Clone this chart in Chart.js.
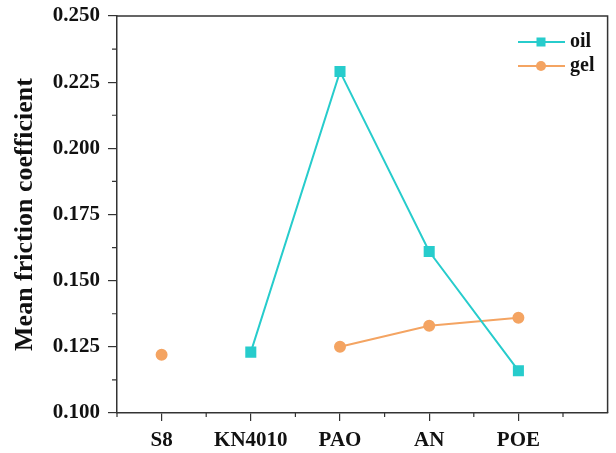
<!DOCTYPE html>
<html>
<head>
<meta charset="utf-8">
<script src="https://cdn.jsdelivr.net/npm/chart.js@4"></script>
<style>
  body { margin: 0; background: #fff; }
  #wrap { width: 616px; height: 453px; }
</style>
</head>
<body>
<div id="wrap"><canvas id="frictionChart" width="616" height="453"></canvas></div>
<script>
// 카테고리 / 시리즈 값
var categories = ["S8", "KN4010", "PAO", "AN", "POE"];
var oilValues = [null, 0.123, 0.229, 0.161, 0.116];
var gelValues = [0.122, null, 0.125, 0.133, 0.136];
var yTicks = [0.100, 0.125, 0.150, 0.175, 0.200, 0.225, 0.250];

var OIL_COLOR = "#27cccc";
var GEL_COLOR = "#f4a462";
var AXIS_COLOR = "#333";
var FONT = "'Liberation Serif', 'Times New Roman', serif";

function toPoints(values) {
    return values.map(function (v, i) { return { x: i, y: v }; });
}

// 박스, 보조 눈금, 범례 그리기
var decorPlugin = {
    id: "decor",
    afterDraw: function (chart) {
        var ctx = chart.ctx;
        var area = chart.chartArea;
        var xs = chart.scales.x;
        var ys = chart.scales.y;
        ctx.save();
        ctx.strokeStyle = AXIS_COLOR;
        ctx.lineWidth = 1.5;
        // top + right border
        ctx.beginPath();
        ctx.moveTo(area.left, area.top);
        ctx.lineTo(area.right, area.top);
        ctx.lineTo(area.right, area.bottom);
        ctx.stroke();

        // minor ticks
        ctx.lineWidth = 1.2;
        ctx.beginPath();
        for (var i = -0.5; i <= 5; i += 1) {
            var px = xs.getPixelForValue(i);
            ctx.moveTo(px, area.bottom);
            ctx.lineTo(px, area.bottom + 4);
        }
        for (var v = 0.1125; v < 0.25; v += 0.025) {
            var py = ys.getPixelForValue(v);
            ctx.moveTo(area.left, py);
            ctx.lineTo(area.left - 5, py);
        }
        ctx.stroke();

        // legend
        var items = [
            { label: "oil", color: OIL_COLOR, style: "rect", y: 42 },
            { label: "gel", color: GEL_COLOR, style: "circle", y: 66 }
        ];
        items.forEach(function (it) {
            ctx.strokeStyle = it.color;
            ctx.fillStyle = it.color;
            ctx.lineWidth = 2;
            ctx.beginPath();
            ctx.moveTo(518, it.y);
            ctx.lineTo(565, it.y);
            ctx.stroke();
            if (it.style === "rect") {
                ctx.fillRect(541 - 4.5, it.y - 4.5, 9, 9);
            } else {
                ctx.beginPath();
                ctx.arc(541, it.y, 5, 0, Math.PI * 2);
                ctx.fill();
            }
            ctx.fillStyle = "#111";
            ctx.font = "bold 20px " + FONT;
            ctx.textBaseline = "middle";
            ctx.textAlign = "left";
            ctx.fillText(it.label, 570, it.y);
        });
        ctx.restore();
    }
};

var ctx = document.getElementById("frictionChart").getContext("2d");
var frictionChart = new Chart(ctx, {
    type: "line",
    data: {
        datasets: [
            {
                label: "oil",
                data: toPoints(oilValues),
                borderColor: OIL_COLOR,
                backgroundColor: OIL_COLOR,
                borderWidth: 2,
                pointStyle: "rect",
                pointRadius: 6.4,
                spanGaps: false
            },
            {
                label: "gel",
                data: toPoints(gelValues),
                borderColor: GEL_COLOR,
                backgroundColor: GEL_COLOR,
                borderWidth: 2,
                pointStyle: "circle",
                pointRadius: 5,
                spanGaps: false
            }
        ]
    },
    options: {
        responsive: false,
        animation: false,
        layout: { padding: { top: 16, right: 5, left: 0, bottom: 0 } },
        plugins: { legend: { display: false }, tooltip: { enabled: false } },
        scales: {
            x: {
                type: "linear",
                min: -0.5,
                max: 5,
                afterBuildTicks: function (scale) {
                    scale.ticks = categories.map(function (c, i) { return { value: i }; });
                },
                afterFit: function (scale) { scale.height = 40; },
                grid: { drawOnChartArea: false, drawTicks: true, tickLength: 8, color: AXIS_COLOR, lineWidth: 1.2 },
                border: { color: AXIS_COLOR, width: 1.5 },
                ticks: {
                    autoSkip: false,
                    maxRotation: 0,
                    padding: 7,
                    color: "#111",
                    font: { family: FONT, size: 21, weight: "bold" },
                    callback: function (v) { return categories[v]; }
                }
            },
            y: {
                min: 0.1,
                max: 0.25,
                afterBuildTicks: function (scale) {
                    scale.ticks = yTicks.map(function (t) { return { value: t }; });
                },
                afterFit: function (scale) {
                    scale.width = 117;
                    scale.paddingTop = 0;
                    scale.paddingBottom = 0;
                },
                grid: { drawOnChartArea: false, drawTicks: true, tickLength: 9, color: AXIS_COLOR, lineWidth: 1.2 },
                border: { color: AXIS_COLOR, width: 1.5 },
                ticks: {
                    padding: 8,
                    color: "#111",
                    font: { family: FONT, size: 21, weight: "bold", lineHeight: 1 },
                    callback: function (v) { return Number(v).toFixed(3); }
                },
                title: {
                    display: true,
                    text: "Mean friction coefficient",
                    color: "#111",
                    padding: { top: 10, bottom: 4 },
                    font: { family: FONT, size: 26, weight: "bold" }
                }
            }
        }
    },
    plugins: [decorPlugin]
});
</script>
</body>
</html>
